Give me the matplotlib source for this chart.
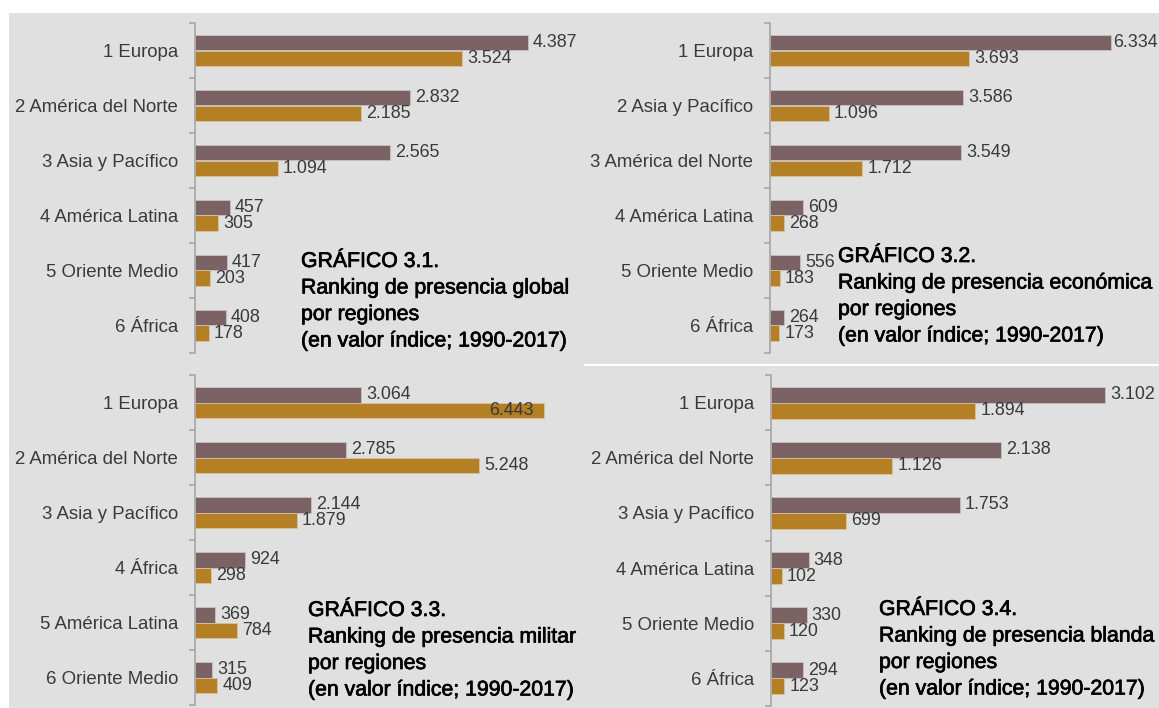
import matplotlib
matplotlib.use("Agg")
import matplotlib.pyplot as plt
from matplotlib.patches import Rectangle
from matplotlib.lines import Line2D
import matplotlib.patheffects as pe
import numpy as np

W, H = 1159, 708

# ---------------- data ----------------
cats_1 = ["1 Europa", "2 América del Norte", "3 Asia y Pacífico",
          "4 América Latina", "5 Oriente Medio", "6 África"]
top_1 = [4387, 2832, 2565, 457, 417, 408]
bot_1 = [3524, 2185, 1094, 305, 203, 178]
title_1 = ["GRÁFICO 3.1.", "Ranking de presencia global", "por regiones",
           "(en valor índice; 1990-2017)"]

cats_2 = ["1 Europa", "2 Asia y Pacífico", "3 América del Norte",
          "4 América Latina", "5 Oriente Medio", "6 África"]
top_2 = [6334, 3586, 3549, 609, 556, 264]
bot_2 = [3693, 1096, 1712, 268, 183, 173]
title_2 = ["GRÁFICO 3.2.", "Ranking de presencia económica", "por regiones",
           "(en valor índice; 1990-2017)"]

cats_3 = ["1 Europa", "2 América del Norte", "3 Asia y Pacífico",
          "4 África", "5 América Latina", "6 Oriente Medio"]
top_3 = [3064, 2785, 2144, 924, 369, 315]
bot_3 = [6443, 5248, 1879, 298, 784, 409]
title_3 = ["GRÁFICO 3.3.", "Ranking de presencia militar", "por regiones",
           "(en valor índice; 1990-2017)"]

cats_4 = ["1 Europa", "2 América del Norte", "3 Asia y Pacífico",
          "4 América Latina", "5 Oriente Medio", "6 África"]
top_4 = [3102, 2138, 1753, 348, 330, 294]
bot_4 = [1894, 1126, 699, 102, 120, 123]
title_4 = ["GRÁFICO 3.4.", "Ranking de presencia blanda", "por regiones",
           "(en valor índice; 1990-2017)"]

# ---------------- style ----------------
BG = "#e0e0e0"
C_TOP = "#7a6265"
C_BOT = "#b47f25"
SPINE = "#a6a6a6"
TXT = "#3a3a3a"
FONT = ["Liberation Sans", "DejaVu Sans"]

plt.rcParams["font.family"] = FONT

fig = plt.figure(figsize=(W / 100, H / 100), dpi=100)
fig.patch.set_facecolor("white")

# grey background panel and white separator line
fig.patches.append(Rectangle((9 / W, 0), (W - 9) / W, (H - 13) / H,
                             transform=fig.transFigure, facecolor=BG,
                             edgecolor="none", zorder=-10))
fig.lines.append(Line2D([585 / W, 1.0], [1 - 364.5 / H, 1 - 364.5 / H],
                        transform=fig.transFigure, color="white", lw=1.5,
                        zorder=-5))


def fmt(v):
    return f"{v:,}".replace(",", ".")


def panel(x0, y0, y1, x1, pxu, cats, top, bot, title, tx, ty, inside=(),
          tight=()):
    width_px = x1 - x0
    ax = fig.add_axes([x0 / W, 1 - y1 / H, width_px / W, (y1 - y0) / H])
    ax.set_facecolor("none")
    n = len(cats)
    y = np.arange(n)
    h = 0.29
    ax.barh(y - 0.145, top, height=h, color=C_TOP, edgecolor="#c9bfc0",
            linewidth=0.6)
    ax.barh(y + 0.145, bot, height=h, color=C_BOT, edgecolor="#d6c39f",
            linewidth=0.6)
    ax.set_xlim(0, width_px / pxu)
    ax.set_ylim(n - 0.5, -0.5)
    for s in ["top", "right", "bottom"]:
        ax.spines[s].set_visible(False)
    ax.spines["left"].set_color(SPINE)
    ax.spines["left"].set_linewidth(1.2)
    ax.set_xticks([])
    ax.set_yticks(y)
    ax.set_yticklabels(cats, fontsize=13.4, color=TXT)
    ax.tick_params(axis="y", which="major", length=0, pad=12)
    ax.set_yticks(np.arange(n + 1) - 0.5, minor=True)
    ax.tick_params(axis="y", which="minor", length=4.5, width=1.2,
                   color=SPINE, direction="out")
    off = 5 / pxu
    fs = 12.9
    for i in range(n):
        o = 1.5 / pxu if i in tight else off
        ax.text(top[i] + o, y[i] - 0.145, fmt(top[i]), va="center",
                ha="left", fontsize=fs, color=TXT)
        if i in inside:
            ax.text(bot[i] - 11 / pxu, y[i] + 0.145, fmt(bot[i]),
                    va="center", ha="right", fontsize=fs, color=TXT)
        else:
            ax.text(bot[i] + off, y[i] + 0.145, fmt(bot[i]), va="center",
                    ha="left", fontsize=fs, color=TXT)
    for k, line in enumerate(title):
        fig.text(tx / W, 1 - (ty + 26.5 * k) / H, line, fontsize=15.3,
                 color="black", ha="left", va="baseline",
                 path_effects=[pe.withStroke(linewidth=0.5,
                                             foreground="black")])
    return ax


panel(195, 23, 353, 580, 0.0759, cats_1, top_1, bot_1, title_1, 301, 267)
panel(770, 23, 353, 1159, 0.0539, cats_2, top_2, bot_2, title_2, 838, 262,
      tight=(0,))
panel(195, 375, 705, 580, 0.0542, cats_3, top_3, bot_3, title_3, 308, 616,
      inside=(0,))
panel(771, 375, 706, 1159, 0.1078, cats_4, top_4, bot_4, title_4, 879, 615)

fig.savefig("out.png", dpi=100, facecolor=fig.get_facecolor())
